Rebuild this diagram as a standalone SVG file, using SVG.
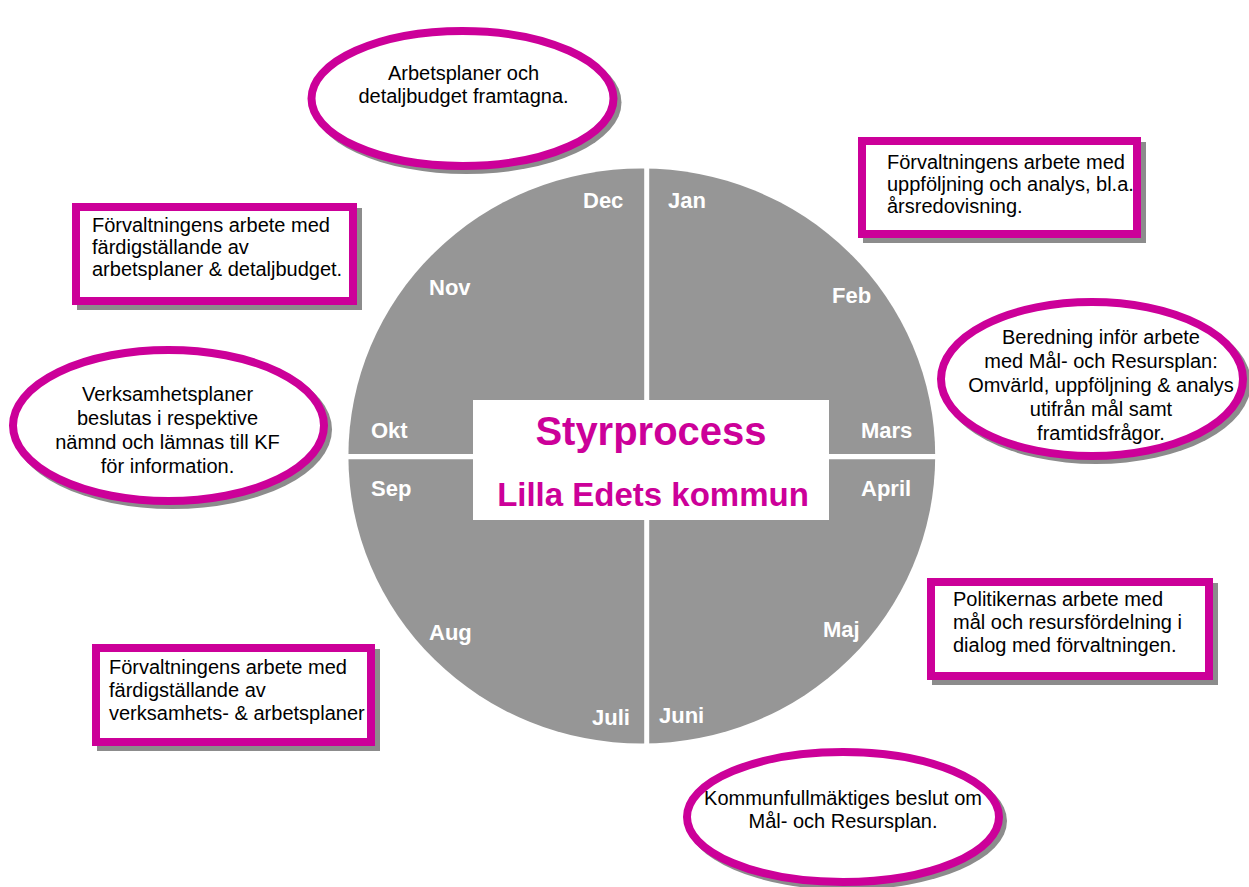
<svg xmlns="http://www.w3.org/2000/svg" width="1249" height="887" viewBox="0 0 1249 887">
<style>
.shadow{fill:#8c8c8c}
.ell{fill:#ffffff;stroke:#cc0099;stroke-width:8}
.box{fill:#ffffff;stroke:#cc0099;stroke-width:8}
.t{font-family:"Liberation Sans",Arial,sans-serif;font-size:20px;fill:#000000}
.c{text-anchor:middle}
.m{font-family:"Liberation Sans",Arial,sans-serif;font-size:22px;font-weight:bold;fill:#ffffff}
.title{font-family:"Liberation Sans",Arial,sans-serif;font-weight:bold;fill:#cc0099;text-anchor:middle}
</style>
<rect width="1249" height="887" fill="#ffffff"/>

<g id="wheel">
  <ellipse cx="641.8" cy="456" rx="293.4" ry="287.6" fill="#969696"/>
  <line x1="646.7" y1="160" x2="646.7" y2="752" stroke="#ffffff" stroke-width="5"/>
  <line x1="340" y1="456.6" x2="945" y2="456.6" stroke="#ffffff" stroke-width="5.4"/>
  <rect x="473" y="400" width="356" height="120" fill="#ffffff"/>
  <text class="title" x="651" y="445" font-size="40">Styrprocess</text>
  <text class="title" x="653" y="506" font-size="33">Lilla Edets kommun</text>
  <text class="m" x="583" y="208">Dec</text>
  <text class="m" x="668" y="208">Jan</text>
  <text class="m" x="429" y="295">Nov</text>
  <text class="m" x="832" y="303">Feb</text>
  <text class="m" x="371" y="438">Okt</text>
  <text class="m" x="861" y="438">Mars</text>
  <text class="m" x="371" y="496">Sep</text>
  <text class="m" x="861" y="496">April</text>
  <text class="m" x="429" y="640">Aug</text>
  <text class="m" x="823" y="637">Maj</text>
  <text class="m" x="592" y="725">Juli</text>
  <text class="m" x="659" y="723">Juni</text>
</g>

<g id="node-arbetsplaner">
  <ellipse class="shadow" cx="466.5" cy="102.5" rx="155" ry="71.5"/>
  <ellipse class="ell" cx="462.5" cy="98.5" rx="151" ry="67.5"/>
  <text class="t c" x="463.5" y="80">Arbetsplaner och</text>
  <text class="t c" x="463.5" y="103">detaljbudget framtagna.</text>
</g>

<g id="node-uppfoljning">
  <rect class="shadow" x="863" y="142" width="283" height="101"/>
  <rect class="box" x="862" y="141" width="275" height="93"/>
  <text class="t" x="887" y="169">Förvaltningens arbete med</text>
  <text class="t" x="887" y="191">uppföljning och analys, bl.a.</text>
  <text class="t" x="887" y="213">årsredovisning.</text>
</g>

<g id="node-fardig-arbetsplaner">
  <rect class="shadow" x="77" y="208" width="285" height="102"/>
  <rect class="box" x="76" y="207" width="277" height="94"/>
  <text class="t" x="92" y="232">Förvaltningens arbete med</text>
  <text class="t" x="92" y="254">färdigställande av</text>
  <text class="t" x="92" y="276">arbetsplaner &amp; detaljbudget.</text>
</g>

<g id="node-beredning">
  <ellipse class="shadow" cx="1096" cy="383" rx="155" ry="81"/>
  <ellipse class="ell" cx="1092" cy="379" rx="151" ry="77"/>
  <text class="t c" x="1101" y="344">Beredning inför arbete</text>
  <text class="t c" x="1101" y="368">med Mål- och Resursplan:</text>
  <text class="t c" x="1101" y="392">Omvärld, uppföljning &amp; analys</text>
  <text class="t c" x="1101" y="416">utifrån mål samt</text>
  <text class="t c" x="1101" y="440">framtidsfrågor.</text>
</g>

<g id="node-verksamhetsplaner">
  <ellipse class="shadow" cx="172.5" cy="429.5" rx="159.5" ry="79.5"/>
  <ellipse class="ell" cx="168.5" cy="425.5" rx="155.5" ry="75.5"/>
  <text class="t c" x="167.5" y="401">Verksamhetsplaner</text>
  <text class="t c" x="167.5" y="425">beslutas i respektive</text>
  <text class="t c" x="167.5" y="449">nämnd och lämnas till KF</text>
  <text class="t c" x="167.5" y="473">för information.</text>
</g>

<g id="node-politikernas">
  <rect class="shadow" x="932" y="583" width="286" height="102"/>
  <rect class="box" x="931" y="582" width="278" height="94"/>
  <text class="t" x="953" y="606">Politikernas arbete med</text>
  <text class="t" x="953" y="629">mål och resursfördelning i</text>
  <text class="t" x="953" y="652">dialog med förvaltningen.</text>
</g>

<g id="node-fardig-verksamhetsplaner">
  <rect class="shadow" x="97" y="649" width="283" height="102"/>
  <rect class="box" x="96" y="648" width="275" height="94"/>
  <text class="t" x="109" y="674">Förvaltningens arbete med</text>
  <text class="t" x="109" y="697">färdigställande av</text>
  <text class="t" x="109" y="720">verksamhets- &amp; arbetsplaner</text>
</g>

<g id="node-kommunfullmaktige">
  <ellipse class="shadow" cx="847" cy="821" rx="160" ry="69"/>
  <ellipse class="ell" cx="843" cy="817" rx="156" ry="65"/>
  <text class="t c" x="843" y="805">Kommunfullmäktiges beslut om</text>
  <text class="t c" x="843" y="828">Mål- och Resursplan.</text>
</g>
</svg>
